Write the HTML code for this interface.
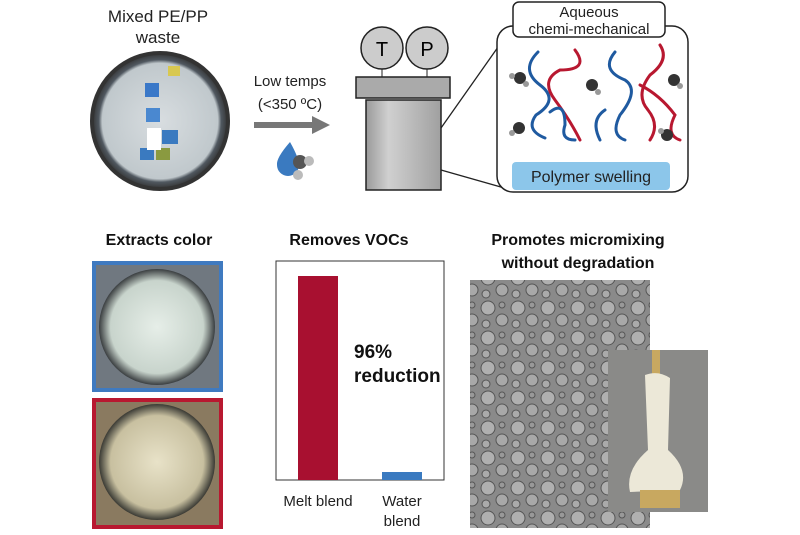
<!DOCTYPE html>
<html><head><style>
body{margin:0;width:800px;height:530px;background:#fff;overflow:hidden;font-family:"Liberation Sans",Arial,sans-serif}
</style></head><body>
<svg width="800" height="530" xmlns="http://www.w3.org/2000/svg" font-family="Liberation Sans, Arial, sans-serif">
<defs>
<radialGradient id="dish" cx="50%" cy="50%" r="50%"><stop offset="0" stop-color="#d8dde0"/><stop offset="0.85" stop-color="#c0c8cc"/><stop offset="0.9" stop-color="#505860"/><stop offset="1" stop-color="#333"/></radialGradient>
<radialGradient id="wh" cx="50%" cy="50%" r="50%"><stop offset="0" stop-color="#e6eee8"/><stop offset="0.8" stop-color="#c8d4cc"/><stop offset="1" stop-color="#3a3e40"/></radialGradient>
<radialGradient id="yl" cx="50%" cy="50%" r="50%"><stop offset="0" stop-color="#e8e2c8"/><stop offset="0.8" stop-color="#c8c0a0"/><stop offset="1" stop-color="#3a3a34"/></radialGradient>
<linearGradient id="cyl" x1="0" x2="1"><stop offset="0" stop-color="#9a9a9a"/><stop offset="0.3" stop-color="#d0d0d0"/><stop offset="1" stop-color="#a0a0a0"/></linearGradient>
<pattern id="sem" width="30" height="30" patternUnits="userSpaceOnUse"><rect width="30" height="30" fill="#8a8a8a"/><circle cx="8" cy="8" r="7" fill="#b0b0b0" stroke="#555"/><circle cx="22" cy="20" r="6" fill="#a8a8a8" stroke="#555"/><circle cx="22" cy="5" r="3" fill="#999" stroke="#555"/><circle cx="6" cy="24" r="4" fill="#aaa" stroke="#555"/></pattern>
</defs>
<!-- top left -->
<text x="158" y="22" font-size="17" text-anchor="middle" fill="#222">Mixed PE/PP</text>
<text x="158" y="43" font-size="17" text-anchor="middle" fill="#222">waste</text>
<circle cx="160" cy="121" r="68" fill="url(#dish)"/>
<circle cx="160" cy="121" r="68" fill="none" stroke="#333" stroke-width="4"/>
<rect x="145" y="83" width="14" height="14" fill="#3a78c8"/><rect x="146" y="108" width="14" height="14" fill="#4a88d0"/><rect x="162" y="130" width="16" height="14" fill="#3a7ac0"/><rect x="140" y="148" width="14" height="12" fill="#3a7ac0"/><rect x="168" y="66" width="12" height="10" fill="#d8c850"/><rect x="156" y="148" width="14" height="12" fill="#8a9a40"/><rect x="147" y="128" width="14" height="22" fill="#fff"/>
<text x="290" y="86" font-size="15" text-anchor="middle" fill="#222">Low temps</text>
<text x="290" y="109" font-size="15" text-anchor="middle" fill="#222">(&lt;350 ºC)</text>
<rect x="254" y="122" width="60" height="6" fill="#777"/><polygon points="312,116 330,125 312,134" fill="#777"/>
<path d="M290,142 Q276,158 277,165 A11,11 0 0 0 299,165 Q299,158 290,142Z" fill="#3a7ac0"/>
<circle cx="300" cy="162" r="7" fill="#555"/><circle cx="309" cy="161" r="5" fill="#bbb"/><circle cx="298" cy="175" r="5" fill="#bbb"/>
<!-- reactor -->
<line x1="382" y1="68" x2="382" y2="78" stroke="#222"/><line x1="427" y1="68" x2="427" y2="78" stroke="#222"/>
<circle cx="382" cy="48" r="21" fill="#ccc" stroke="#222" stroke-width="1.5"/><circle cx="427" cy="48" r="21" fill="#ccc" stroke="#222" stroke-width="1.5"/>
<text x="382" y="56" font-size="20" text-anchor="middle">T</text><text x="427" y="56" font-size="20" text-anchor="middle">P</text>
<rect x="356" y="77" width="94" height="21" fill="#aaa" stroke="#222" stroke-width="1.5"/>
<rect x="366" y="100" width="75" height="90" fill="url(#cyl)" stroke="#222" stroke-width="1.5"/>
<line x1="441" y1="128" x2="503" y2="40" stroke="#222" stroke-width="1.3"/><line x1="441" y1="170" x2="515" y2="191" stroke="#222" stroke-width="1.3"/>
<rect x="497" y="26" width="191" height="166" rx="16" fill="#fff" stroke="#222" stroke-width="1.5"/>
<rect x="513" y="2" width="152" height="35" rx="6" fill="#fff" stroke="#222" stroke-width="1.5"/>
<text x="589" y="17" font-size="15" text-anchor="middle" fill="#222">Aqueous</text>
<text x="589" y="34" font-size="15" text-anchor="middle" fill="#222">chemi-mechanical</text>
<g fill="none" stroke-width="3" stroke-linecap="round">
<path d="M538,52 Q520,70 540,85 Q560,100 536,115 Q525,130 545,138" stroke="#1f5aa0"/>
<path d="M575,50 Q590,70 560,70 Q540,80 555,100 Q570,120 580,140" stroke="#b81830"/>
<path d="M550,112 Q565,100 565,125 Q560,140 575,140" stroke="#1f5aa0"/>
<path d="M615,52 Q600,70 625,80 Q640,90 620,115 Q610,135 625,140" stroke="#1f5aa0"/>
<path d="M605,110 Q590,120 600,140" stroke="#1f5aa0"/>
<path d="M660,45 Q670,60 650,75 Q635,95 648,110 Q660,125 650,140" stroke="#b81830"/>
<path d="M640,85 Q660,95 675,115 Q665,135 680,140" stroke="#b81830"/>
</g>
<g fill="#333"><circle cx="520" cy="78" r="6"/><circle cx="592" cy="85" r="6"/><circle cx="674" cy="80" r="6"/><circle cx="519" cy="128" r="6"/><circle cx="667" cy="135" r="6"/></g>
<g fill="#999"><circle cx="512" cy="76" r="3"/><circle cx="526" cy="84" r="3"/><circle cx="598" cy="92" r="3"/><circle cx="680" cy="86" r="3"/><circle cx="512" cy="133" r="3"/><circle cx="661" cy="131" r="3"/></g>
<rect x="512" y="162" width="158" height="28" rx="4" fill="#8cc6ea"/>
<text x="591" y="182" font-size="16" text-anchor="middle" fill="#222">Polymer swelling</text>
<!-- bottom -->
<text x="159" y="245" font-size="16" font-weight="bold" text-anchor="middle" fill="#111">Extracts color</text>
<text x="349" y="245" font-size="16" font-weight="bold" text-anchor="middle" fill="#111">Removes VOCs</text>
<text x="578" y="245" font-size="16" font-weight="bold" text-anchor="middle" fill="#111">Promotes micromixing</text>
<text x="578" y="268" font-size="16" font-weight="bold" text-anchor="middle" fill="#111">without degradation</text>
<rect x="94" y="263" width="127" height="127" fill="#707880" stroke="#3f7ac0" stroke-width="4"/>
<circle cx="157" cy="327" r="58" fill="url(#wh)"/>
<rect x="94" y="400" width="127" height="127" fill="#8a7a60" stroke="#b81830" stroke-width="4"/>
<circle cx="157" cy="462" r="58" fill="url(#yl)"/>
<rect x="276" y="261" width="168" height="219" fill="#fff" stroke="#333" stroke-width="1"/>
<rect x="298" y="276" width="40" height="204" fill="#a81030"/>
<rect x="382" y="472" width="40" height="8" fill="#3a7ac0"/>
<text x="354" y="358" font-size="19" font-weight="bold" fill="#111">96%</text>
<text x="354" y="382" font-size="19" font-weight="bold" fill="#111">reduction</text>
<text x="318" y="506" font-size="15" text-anchor="middle" fill="#222">Melt blend</text>
<text x="402" y="506" font-size="15" text-anchor="middle" fill="#222">Water</text>
<text x="402" y="526" font-size="15" text-anchor="middle" fill="#222">blend</text>
<rect x="470" y="280" width="180" height="248" fill="url(#sem)"/>
<rect x="608" y="350" width="100" height="162" fill="#8a8a88"/>
<rect x="652" y="350" width="8" height="30" fill="#c8a860"/>
<path d="M645,375 Q658,370 670,378 L668,450 Q690,470 680,490 L630,492 Q625,470 648,450Z" fill="#ece8d8"/>
<rect x="640" y="490" width="40" height="18" fill="#c8a860"/>
</svg>
</body></html>
